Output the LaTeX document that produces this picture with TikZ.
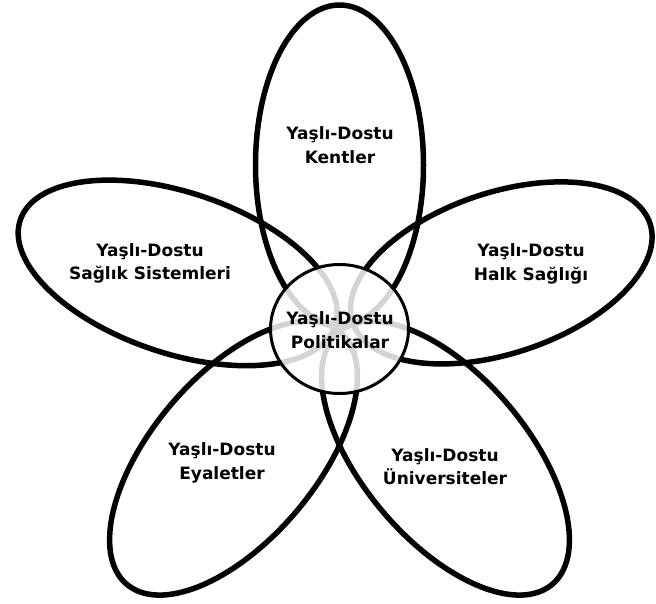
\documentclass[tikz,border=0pt]{standalone}
\usepackage{fontspec}
\usetikzlibrary{shapes.geometric}
\newfontfamily\lblfont{DejaVu Sans}
\tikzset{
  petal/.style={draw=black, line width=5.5pt},
  hub/.style={ellipse, draw=black, line width=3pt, fill=white, fill opacity=0.83,
    minimum width=138pt, minimum height=129pt, inner sep=0pt, outer sep=0pt},
  lbl/.style={align=center, text=black, inner sep=0pt,
    font=\lblfont\bfseries\fontsize{17}{23.5}\selectfont}
}
\begin{document}
\begin{tikzpicture}[x=1pt,y=1pt]
\useasboundingbox[fill=white] (0,0) rectangle (656,603);
\coordinate (c) at (339.5,274);
\begin{scope}[shift={(c)}, xscale=1.05]
  \draw[petal, rotate=90]  (164,0) ellipse [x radius=160, y radius=80];
  \draw[petal, rotate=160] (164,0) ellipse [x radius=159, y radius=80];
  \draw[petal, rotate=20]  (164,0) ellipse [x radius=150, y radius=80];
  \draw[petal, rotate=232] (164,0) ellipse [x radius=162, y radius=80];
  \draw[petal, rotate=308] (164,0) ellipse [x radius=162, y radius=80];
\end{scope}
\node[hub] (hub) at (c) {};
\node[lbl] (pol) at (340,273) {Yaşlı-Dostu\\Politikalar};
\node[lbl] (kent) at (340,458) {Yaşlı-Dostu\\Kentler};
\node[lbl] (saglik) at (150,339.5) {Yaşlı-Dostu\\Sağlık Sistemleri};
\node[lbl] (halk) at (531,339) {Yaşlı-Dostu\\Halk Sağlığı};
\node[lbl] (eyalet) at (222,140) {Yaşlı-Dostu\\Eyaletler};
\node[lbl] (univ) at (445,136.5) {Yaşlı-Dostu\\Üniversiteler};
\end{tikzpicture}
\end{document}
